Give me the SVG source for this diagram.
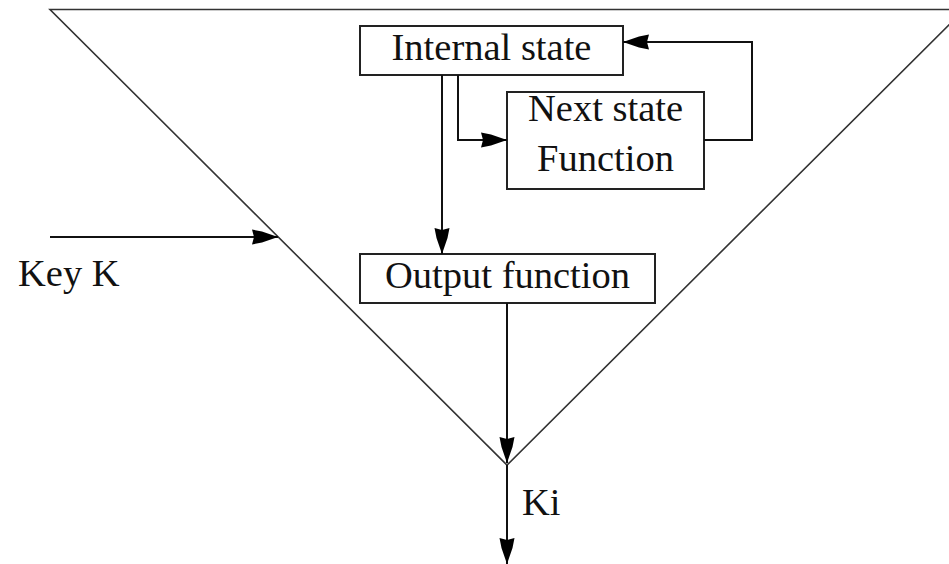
<svg xmlns="http://www.w3.org/2000/svg" width="949" height="564" viewBox="0 0 949 564">
<style>
.box{fill:#fff;stroke:#222;stroke-width:2}
.ln{fill:none;stroke:#111;stroke-width:2}
.tri{fill:none;stroke:#333;stroke-width:1.6}
text{font-family:"Liberation Serif","Times New Roman",serif;font-size:38.5px;fill:#111}
</style>
<defs>
<marker id="ah" viewBox="0 0 26 16" refX="26" refY="8" markerWidth="26" markerHeight="16" markerUnits="userSpaceOnUse" orient="auto">
<path d="M0,0.5 L10,2.5 L26,8 L10,13.5 L0,15.5 L2,8 z" fill="#000"/>
</marker>
</defs>
<g id="frame">
<path class="tri" d="M949,9.5 L50,9.5 L507,465 L964,10"/>
</g>
<g id="internal-state">
<rect class="box" x="360" y="26" width="263" height="49"/>
<text x="491.5" y="60" text-anchor="middle">Internal state</text>
</g>
<g id="next-state">
<rect class="box" x="507" y="92" width="197" height="97"/>
<text x="605.5" y="121" text-anchor="middle">Next state</text>
<text x="605.5" y="171" text-anchor="middle">Function</text>
</g>
<g id="output-function">
<rect class="box" x="360" y="254" width="295" height="49"/>
<text x="507.5" y="288" text-anchor="middle">Output function</text>
</g>
<g id="key-label">
<text x="18" y="286">Key K</text>
</g>
<g id="ki-label">
<text x="522" y="515">Ki</text>
</g>
<g id="connectors">
<path class="ln" d="M442,75 L442,254" marker-end="url(#ah)"/>
<path class="ln" d="M458,75 L458,140 L507,140" marker-end="url(#ah)"/>
<path class="ln" d="M704,140 L752,140 L752,42 L623,42" marker-end="url(#ah)"/>
<path class="ln" d="M50,237 L278,237" marker-end="url(#ah)"/>
<path class="ln" d="M507,303 L507,463" marker-end="url(#ah)"/>
<path class="ln" d="M507,465 L507,564" marker-end="url(#ah)"/>
</g>
</svg>
